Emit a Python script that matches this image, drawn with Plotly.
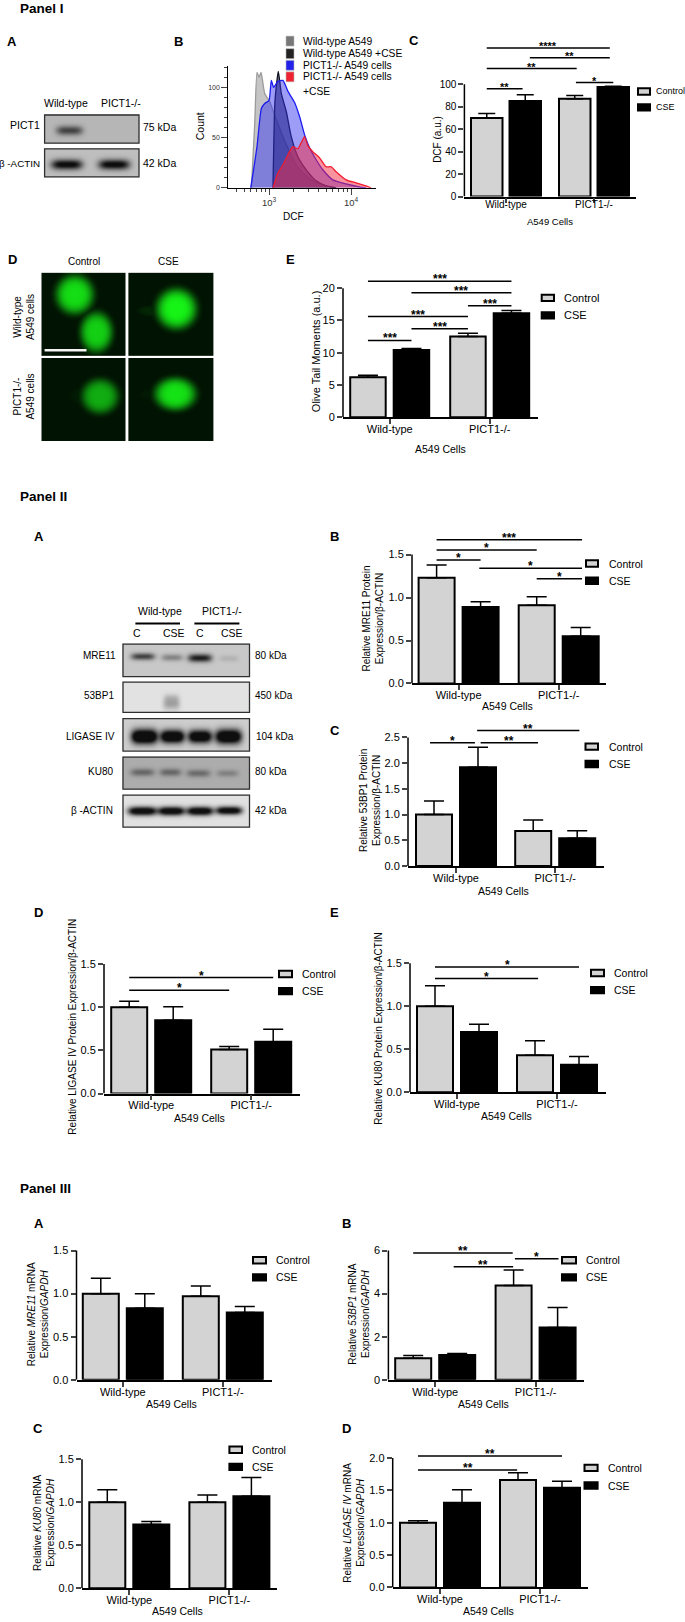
import numpy as np
import plotly.graph_objects as go

W, H = 685, 1622
FONT = "Liberation Sans"
GROUPS = ["Wild-type", "PICT1-/-"]
GREY = "#d3d3d3"

# ---------- flow cytometry histogram (DCF, count) ----------
WT_X = [610, 670, 714, 757, 800, 886, 1019, 1228, 1479, 1782, 2148, 2588, 3418, 4966, 6577]
WT_Y = [0, 64, 115, 110, 115, 94, 86, 68, 51, 36, 23, 15, 7, 2, 0]
WTCSE_X = [1118, 1183, 1298, 1412, 1623, 1867, 2249, 2840, 3756, 4966, 6577]
WTCSE_Y = [0, 87, 116, 94, 76, 51, 31, 18, 7, 2, 0]
KO_X = [598, 640, 714, 807, 886, 1000, 1067, 1139, 1286, 1479, 1702, 2051, 2357, 2710, 3119, 3756, 4529, 5986, 8689, 12620, 15210]
KO_Y = [0, 15, 41, 79, 84, 87, 107, 100, 106, 107, 96, 85, 71, 53, 40, 28, 18, 8, 4, 1, 0]
KOCSE_X = [1118, 1286, 1479, 1702, 1954, 2249, 2470, 2710, 2979, 3418, 4121, 4966, 5715, 6577, 8689, 11510, 15210, 17500]
KOCSE_Y = [0, 15, 23, 33, 41, 39, 45, 51, 42, 36, 30, 21, 21, 16, 8, 5, 2, 0]

# ---------- bar values: [Wild-type, PICT1-/-] ----------
IC_CTRL, IC_CTRL_E = [70, 87], [4, 3]
IC_CSE, IC_CSE_E = [85, 97.5], [5.5, 0.6]
IC_SIG = [(0, 2.91, 132.2, "****"), (1.12, 2.91, 123.6, "**"), (0, 2.05, 113.9, "**"), (2.03, 3, 101.5, "*"), (0, 0.93, 95.9, "**")]

IE_CTRL, IE_CTRL_E = [6.2, 12.5], [0.3, 0.5]
IE_CSE, IE_CSE_E = [10.4, 16.1], [0.25, 0.45]
IE_SIG = [(0, 3, 21.1, "***"), (1, 3, 19.3, "***"), (2, 3, 17.3, "***"), (0, 2, 15.6, "***"), (1, 2, 13.7, "***"), (0, 1, 11.9, "***")]

IIB_CTRL, IIB_CTRL_E = [1.23, 0.91], [0.15, 0.10]
IIB_CSE, IIB_CSE_E = [0.89, 0.55], [0.06, 0.10]
IIB_SIG = [(0, 3.03, 1.674, "***"), (0, 2, 1.554, "*"), (0, 1, 1.438, "*"), (0.97, 3.03, 1.342, "*"), (2, 3.03, 1.219, "*")]

IIC_CTRL, IIC_CTRL_E = [1.0, 0.68], [0.263, 0.216]
IIC_CSE, IIC_CSE_E = [1.92, 0.54], [0.387, 0.143]
IIC_SIG = [(-0.09, 0.93, 2.397, "*"), (1.06, 2.11, 2.397, "**"), (0.98, 3.05, 2.635, "**")]

IID_CTRL, IID_CTRL_E = [1.0, 0.51], [0.07, 0.035]
IID_CSE, IID_CSE_E = [0.85, 0.60], [0.155, 0.144]
IID_SIG = [(0, 3, 1.343, "*"), (0, 2, 1.197, "*")]

IIE_CTRL, IIE_CTRL_E = [1.0, 0.43], [0.238, 0.168]
IIE_CSE, IIE_CSE_E = [0.70, 0.32], [0.09, 0.097]
IIE_SIG = [(0, 3, 1.458, "*"), (0, 2.07, 1.323, "*")]

IIIA_CTRL, IIIA_CTRL_E = [1.0, 0.97], [0.178, 0.12]
IIIA_CSE, IIIA_CSE_E = [0.83, 0.78], [0.17, 0.07]

IIIB_CTRL, IIIB_CTRL_E = [1.0, 4.38], [0.13, 0.72]
IIIB_CSE, IIIB_CSE_E = [1.15, 2.43], [0.07, 0.93]
IIIB_SIG = [(0, 1.98, 5.89, "**"), (0.92, 1.99, 5.25, "**"), (2.03, 3.02, 5.62, "*")]

IIIC_CTRL, IIIC_CTRL_E = [1.0, 1.0], [0.145, 0.084]
IIIC_CSE, IIIC_CSE_E = [0.74, 1.07], [0.035, 0.218]

IIID_CTRL, IIID_CTRL_E = [1.0, 1.66], [0.03, 0.11]
IIID_CSE, IIID_CSE_E = [1.31, 1.54], [0.2, 0.1]
IIID_SIG = [(0, 3, 2.03, "**"), (0, 1.98, 1.816, "**")]

# ---------- illustration rasters: (x, y, sx, sy, strength) ----------
BLOT_I_PICT1 = [(69, 126.7, 11, 3.2, 0.7)]
BLOT_I_ACTIN = [(66.4, 161, 13, 3.5, 1.1), (113.6, 161, 13, 3.5, 1.1)]
LANES = [142.5, 171.7, 199.5, 228.5]
BLOT_MRE11 = [(LANES[0], 656, 10, 2.4, 0.75), (LANES[1], 657, 9, 2.4, 0.38), (LANES[2], 657.5, 10, 2.8, 0.95), (LANES[3], 658, 8, 2.2, 0.12)]
BLOT_53BP1 = [(171, 703, 7, 4.5, 0.32), (171, 697, 6, 2.5, 0.1)]
BLOT_LIG4 = [(144, 736.5, 11, 5, 1.6), (172, 736.5, 10, 4.5, 1.5), (199.5, 736.5, 10, 4.5, 1.4), (228, 736.5, 11, 5, 1.5)]
BLOT_KU80 = [(142, 772.5, 10, 2.6, 0.45), (170, 772.5, 9, 2.6, 0.45), (198, 773.5, 10, 2.6, 0.42), (227, 773.5, 9, 2.4, 0.28)]
BLOT_ACTIN = [(142, 811.5, 12, 3, 1.3), (171, 811.5, 11, 3, 1.3), (199.5, 811.5, 11, 3, 1.3), (228.5, 811, 11, 2.8, 1.25)]
COMET_A = [(74.3, 291.7, 17, 17.5, 0.9), (96, 329.3, 14.5, 18, 0.84)]
COMET_B = [(176, 306, 18, 18, 1.0), (152, 308, 14, 5, 0.1)]
COMET_C = [(99.6, 394, 16.5, 15.5, 0.68), (80, 394, 10, 8, 0.05)]
COMET_D = [(174.8, 391.7, 18.5, 14.5, 0.92), (150, 392, 12, 6, 0.04)]

fig = go.Figure()
layout = {}
annots = []
shapes = []


def px(x):
    return x / W


def py(y):
    return 1 - y / H


def T(text, x, y, size=10.5, anchor="center", angle=0, bold=False):
    annots.append(dict(text=f"<b>{text}</b>" if bold else text, x=px(x), y=py(y), xref="paper", yref="paper",
                       xanchor=anchor, yanchor="middle", showarrow=False, textangle=angle,
                       font=dict(family=FONT, size=size, color="black")))


def pixel_rect(x0, y0, x1, y1, fill=None, line="black", lw=1.0):
    shapes.append(dict(type="rect", xref="paper", yref="paper", x0=px(x0), x1=px(x1), y0=py(y0), y1=py(y1),
                       fillcolor=fill if fill else "rgba(0,0,0,0)", line=dict(color=line, width=lw)))


def pixel_line(x0, y0, x1, y1, lw=2, color="black"):
    shapes.append(dict(type="line", xref="paper", yref="paper", x0=px(x0), x1=px(x1), y0=py(y0), y1=py(y1),
                       line=dict(color=color, width=lw)))


# canvas for the raster illustrations, in picture pixels
layout["xaxis"] = dict(domain=[0, 1], range=[0, W], visible=False, fixedrange=True)
layout["yaxis"] = dict(domain=[0, 1], range=[H, 0], visible=False, fixedrange=True)


def blot(x0, y0, x1, y1, bands, bg):
    xs = np.arange(x0, x1, 1.0)
    ys = np.arange(y0, y1, 1.0)
    X, Y = np.meshgrid(xs, ys)
    d = np.zeros_like(X)
    for cx, cy, sx, sy, a in bands:
        d += a * np.exp(-0.5 * ((X - cx) / sx) ** 4) * np.exp(-0.5 * ((Y - cy) / sy) ** 2)
    z = np.clip(bg * (1 - np.minimum(d, 1.0) * 0.93), 0, 255)
    fig.add_trace(go.Heatmap(z=np.round(z, 0).tolist(), x0=x0, dx=1, y0=y0, dy=1, zmin=0, zmax=255,
                             colorscale=[[0, "black"], [1, "white"]], showscale=False, hoverinfo="skip",
                             zsmooth="best", xaxis="x", yaxis="y"))
    pixel_rect(x0, y0, x1, y1, line="#303030", lw=1.3)


def comet(x0, y0, x1, y1, blobs):
    xs = np.arange(x0, x1, 1.0)
    ys = np.arange(y0, y1, 1.0)
    X, Y = np.meshgrid(xs, ys)
    g = np.full_like(X, 0.015)
    for cx, cy, rx, ry, a in blobs:
        r2 = ((X - cx) / rx) ** 2 + ((Y - cy) / ry) ** 2
        g = np.maximum(g, a * np.exp(-np.log(2) * r2 ** 2.2))
    fig.add_trace(go.Heatmap(z=np.round(g, 3).tolist(), x0=x0, dx=1, y0=y0, dy=1, zmin=0, zmax=1,
                             colorscale=[[0, "#011002"], [0.6, "#0f9a10"], [1, "#16f416"]], showscale=False,
                             hoverinfo="skip", zsmooth="best", xaxis="x", yaxis="y"))


blot(44.6, 111.7, 139, 140, BLOT_I_PICT1, 182)
blot(44.6, 145.7, 139, 174, BLOT_I_ACTIN, 190)
blot(123, 644, 249.5, 676.7, BLOT_MRE11, 200)
blot(123, 682.3, 249.5, 712.7, BLOT_53BP1, 226)
blot(123, 719, 249.5, 751.7, BLOT_LIG4, 205)
blot(123, 757.7, 249.5, 790, BLOT_KU80, 172)
blot(123, 796, 249.5, 828.3, BLOT_ACTIN, 225)
comet(42, 271, 125.4, 354.3, COMET_A)
comet(128.9, 271, 213.6, 354.3, COMET_B)
comet(42, 356.7, 125.4, 440.7, COMET_C)
comet(128.9, 356.7, 213.6, 440.7, COMET_D)
pixel_line(44.6, 348.3, 86.5, 348.3, lw=2.5, color="#f4f4f4")

axis_no = 1


def bar_panel(ctrl, ctrl_e, cse, cse_e, sig, left, right, top, bottom, ymax, dtick, fmt, g1, g2,
              d=44.0, pw=36.0, cap=10, size=11, sigsize=12, standoff=-4):
    global axis_no
    axis_no += 1
    n = axis_no
    unit = g2 - g1
    xa, ya = f"x{n}", f"y{n}"
    pos = list(range(len(GROUPS)))
    # the value scale carries on above the axis line, so the brackets sit on it too
    highest = max([ymax] + [s[2] for s in sig])
    yext = highest * 1.02
    top_ext = bottom - (bottom - top) * yext / ymax
    common = dict(x=pos, width=pw / unit, xaxis=xa, yaxis=ya, hoverinfo="y", showlegend=False)
    fig.add_trace(go.Bar(y=ctrl, name="Control", offset=-(d / 2 + pw / 2) / unit,
                         marker=dict(color=GREY, line=dict(color="black", width=2)),
                         error_y=dict(type="data", symmetric=False, array=ctrl_e, arrayminus=[0, 0],
                                      color="black", thickness=1.5, width=cap), **common))
    fig.add_trace(go.Bar(y=cse, name="CSE", offset=(d / 2 - pw / 2) / unit,
                         marker=dict(color="black", line=dict(color="black", width=2)),
                         error_y=dict(type="data", symmetric=False, array=cse_e, arrayminus=[0, 0],
                                      color="black", thickness=1.5, width=cap), **common))

    def bar_x(i):
        h = d / 2 / unit
        return -h + i * 2 * h if i < 1.5 else 1 - h + (i - 2) * 2 * h

    for a, b, y, label in sig:
        fig.add_trace(go.Scatter(x=[bar_x(a), bar_x(b)], y=[y, y], mode="lines", line=dict(color="black", width=1.5),
                                 cliponaxis=False, xaxis=xa, yaxis=ya, hoverinfo="skip", showlegend=False))
        annots.append(dict(text=f"<b>{label}</b>", x=(bar_x(a) + bar_x(b)) / 2, y=y, xref=xa, yref=ya,
                           yshift=2, yanchor="middle", showarrow=False,
                           font=dict(family=FONT, size=sigsize, color="black")))
    shapes.append(dict(type="line", xref=f"{xa} domain", yref=ya, x0=0, x1=0, y0=0, y1=ymax,
                       line=dict(color="black", width=1.5)))
    ticks = [round(dtick * i, 6) for i in range(int(round(ymax / dtick)) + 1)]
    layout[f"xaxis{n}"] = dict(domain=[px(left), px(right)], range=[(left - g1) / unit, (right - g1) / unit],
                               anchor=ya, tickmode="array", tickvals=pos, ticktext=GROUPS, ticks="outside",
                               ticklen=5, tickwidth=1.5, showline=True, linecolor="black", linewidth=1.5,
                               showgrid=False, zeroline=False, fixedrange=True, ticklabelstandoff=standoff,
                               tickfont=dict(family=FONT, size=size, color="black"))
    layout[f"yaxis{n}"] = dict(domain=[py(bottom), py(top_ext)], range=[0, yext], anchor=xa, tickmode="array",
                               tickvals=ticks, tickformat=fmt, ticks="outside", ticklen=5, tickwidth=1.5,
                               showline=False, showgrid=False, zeroline=False, fixedrange=True,
                               tickfont=dict(family=FONT, size=size, color="black"))


def legend(x0, x1, y1, y2, tx, size=10.5):
    pixel_rect(x0, y1 - 3.2, x1, y1 + 3.2, fill=GREY, lw=2)
    pixel_rect(x0, y2 - 3.2, x1, y2 + 3.2, fill="black", lw=2)
    T("Control", tx, y1, size, "left")
    T("CSE", tx, y2, size, "left")


# ---------- Panel I ----------
T("Panel I", 17.5, 5, 13.5, "left", bold=True)
T("A", 12, 37.7, 13, bold=True)
T("B", 178, 37.7, 13, bold=True)
T("C", 414, 37, 13, bold=True)
T("Wild-type", 66.4, 100, 10.5)
T("PICT1-/-", 121, 100, 10.5)
T("PICT1", 42, 122, 10.5, "right")
T("β -ACTIN", 42.4, 160, 9.8, "right")
T("75 kDa", 140.7, 124, 10.5, "left")
T("42 kDa", 140.7, 160, 10.5, "left")

# histogram B
axis_no += 1
hn = axis_no
for name, xs, ys, lc, fc in [
    ("Wild-type A549", WT_X, WT_Y, "#9a9a9a", "rgba(150,150,150,0.55)"),
    ("Wild-type A549 +CSE", WTCSE_X, WTCSE_Y, "#101020", "rgba(20,20,50,0.6)"),
    ("PICT1-/- A549 cells", KO_X, KO_Y, "#1c1cf0", "rgba(50,50,240,0.48)"),
    ("PICT1-/- A549 cells +CSE", KOCSE_X, KOCSE_Y, "#f01c30", "rgba(245,40,60,0.5)"),
]:
    fig.add_trace(go.Scatter(x=xs, y=ys, mode="lines", name=name, fill="tozeroy", fillcolor=fc,
                             line=dict(color=lc, width=1.3, shape="spline", smoothing=0.5),
                             xaxis=f"x{hn}", yaxis=f"y{hn}", showlegend=False, hoverinfo="name"))
layout[f"xaxis{hn}"] = dict(domain=[px(228.3), px(375.7)], type="log", range=[2.504, 4.30], anchor=f"y{hn}",
                            dtick=1, exponentformat="power", ticks="outside", ticklen=6, tickwidth=1,
                            showline=True, linecolor="black", linewidth=1.2, showgrid=False, zeroline=False,
                            fixedrange=True, tickfont=dict(family=FONT, size=7.5, color="#333"),
                            minor=dict(ticks="outside", ticklen=3, tickwidth=1, dtick="D1", showgrid=False))
layout[f"yaxis{hn}"] = dict(domain=[py(185), py(62.7)], range=[0, 121], anchor=f"x{hn}", tickvals=[0, 50, 100],
                            ticks="outside", ticklen=6, tickwidth=1, showline=True, linecolor="black", linewidth=1,
                            showgrid=False, zeroline=False, fixedrange=True,
                            tickfont=dict(family=FONT, size=7, color="#333"),
                            minor=dict(ticks="outside", ticklen=3, tickwidth=1, dtick=10, showgrid=False))
T("Count", 200, 123, 10.5, angle=-90)
T("DCF", 293.6, 214, 10)
for (lbl, y, col) in [("Wild-type A549", 37.3, "#777777"), ("Wild-type A549 +CSE", 50, "#222222"),
                      ("PICT1-/- A549 cells", 61.7, "#2222e8"), ("PICT1-/- A549 cells", 73.3, "#ee2230")]:
    pixel_rect(286, y - 5, 294, y + 5, fill=col, line="#bbbbbb", lw=0.6)
    T(lbl, 301, y, 10.3, "left")
T("+CSE", 301, 88, 10.3, "left")

bar_panel(IC_CTRL, IC_CTRL_E, IC_CSE, IC_CSE_E, IC_SIG, 464.4, 635.6, 80.7, 193.7, 100, 20, "d", 506, 594,
          d=38.5, pw=31.5, cap=8.5, size=10, sigsize=11, standoff=-7)
legend(638, 650, 88, 104, 654, 9)
T("DCF (a.u.)", 438, 136.7, 10, angle=-90)
T("A549 Cells", 550, 219, 9.5)

T("D", 12, 256.7, 13, bold=True)
T("E", 290, 256.7, 13, bold=True)
T("Control", 84, 259.3, 10)
T("CSE", 168, 259.3, 10)
T("Wild-type<br>A549 cells", 24, 315, 10, angle=-90)
T("PICT1-/-<br>A549 cells", 24, 395, 10, angle=-90)

bar_panel(IE_CTRL, IE_CTRL_E, IE_CSE, IE_CSE_E, IE_SIG, 343, 538, 286, 415.7, 20, 5, "d", 389.7, 489.7,
          d=43.5, pw=35.5, cap=10)
legend(541.7, 554, 295.7, 313.3, 562, 11)
T("Olive Tail Moments (a.u.)", 316, 350.3, 11, angle=-90)
T("A549 Cells", 440, 447.3, 10.5)

# ---------- Panel II ----------
T("Panel II", 17.5, 496, 13.5, "left", bold=True)
T("A", 39.3, 536, 13, bold=True)
T("B", 334, 536, 13, bold=True)
T("C", 334.6, 731, 13, bold=True)
T("D", 38.4, 914.3, 13, bold=True)
T("E", 334, 914.3, 13, bold=True)
T("Wild-type", 159.5, 610.7, 10.5)
T("PICT1-/-", 222, 610.7, 10.5)
pixel_line(135.4, 623.3, 180, 623.3)
pixel_line(194.4, 623.3, 239.4, 623.3)
for lbl, x in [("C", 137), ("CSE", 174.3), ("C", 200), ("CSE", 232)]:
    T(lbl, x, 632.7, 10.5)
for lbl, xr, xl, kda, y in [("MRE11", 118.4, 252.5, "80 kDa", 655.7), ("53BP1", 115.8, 252.5, "450 kDa", 695.5),
                            ("LIGASE IV", 117, 253.8, "104 kDa", 737), ("KU80", 115, 252.5, "80 kDa", 772.3),
                            ("β -ACTIN", 114.5, 253.3, "42 kDa", 811.8)]:
    T(lbl, xr, y, 10, "right")
    T(kda, xl, y, 10, "left")

bar_panel(IIB_CTRL, IIB_CTRL_E, IIB_CSE, IIB_CSE_E, IIB_SIG, 412, 606, 554, 683.7, 1.5, 0.5, ".1f",
          458.6, 558.7)
legend(586, 598, 563, 580.3, 606.5)
T("Relative MRE11 Protein<br>Expression/β-ACTIN", 373, 618.3, 10, angle=-90)
T("A549 Cells", 507, 706.7, 10.5)

bar_panel(IIC_CTRL, IIC_CTRL_E, IIC_CSE, IIC_CSE_E, IIC_SIG, 408, 604, 738, 867.3, 2.5, 0.5, ".1f",
          456, 555.2)
legend(585.5, 598, 747.3, 764.7, 606.5)
T("Relative 53BP1 Protein<br>Expression/β-ACTIN", 370, 802, 10, angle=-90)
T("A549 Cells", 504, 892.7, 10.5)

bar_panel(IID_CTRL, IID_CTRL_E, IID_CSE, IID_CSE_E, IID_SIG, 104, 300, 966, 1096.3, 1.5, 0.5, ".1f",
          151.2, 251.2)
legend(279, 292, 976, 993.3, 300)
T("Relative LIGASE IV Protein Expression/β-ACTIN", 73, 1029, 10, angle=-90)
T("A549 Cells", 200, 1121, 10.5)

bar_panel(IIE_CTRL, IIE_CTRL_E, IIE_CSE, IIE_CSE_E, IIE_SIG, 410, 606, 965.3, 1095, 1.5, 0.5, ".1f",
          457, 557)
legend(591, 604, 975, 992.3, 611.6)
T("Relative KU80 Protein Expression/β-ACTIN", 379, 1030, 10, angle=-90)
T("A549 Cells", 506, 1119, 10.5)

# ---------- Panel III ----------
T("Panel III", 17.5, 1191.7, 13.5, "left", bold=True)
T("A", 39.3, 1227.3, 13, bold=True)
T("B", 346, 1227.3, 13, bold=True)
T("C", 38.4, 1433.7, 13, bold=True)
T("D", 346, 1433.7, 13, bold=True)

bar_panel(IIIA_CTRL, IIIA_CTRL_E, IIIA_CSE, IIIA_CSE_E, [], 76.5, 271.7, 1254.3, 1384.3, 1.5, 0.5, ".1f",
          122.8, 222.8)
legend(253, 266, 1264, 1281.3, 274.4)
T("Relative <i>MRE11</i> mRNA<br>Expression/<i>GAPDH</i>", 38, 1318.3, 10, angle=-90)
T("A549 Cells", 171, 1409, 10.5)

bar_panel(IIIB_CTRL, IIIB_CTRL_E, IIIB_CSE, IIIB_CSE_E, IIIB_SIG, 388.4, 584, 1254.3, 1384.3, 6, 2, "d",
          435.2, 535.6)
legend(562, 576, 1264, 1281.3, 584)
T("Relative <i>53BP1</i> mRNA<br>Expression/<i>GAPDH</i>", 359.5, 1318.3, 10, angle=-90)
T("A549 Cells", 483.6, 1409, 10.5)

bar_panel(IIIC_CTRL, IIIC_CTRL_E, IIIC_CSE, IIIC_CSE_E, [], 82, 277.4, 1464.3, 1594, 1.5, 0.5, ".1f",
          129.3, 229.4)
legend(229.4, 242, 1454.7, 1472, 250)
T("Relative <i>KU80</i> mRNA<br>Expression/<i>GAPDH</i>", 44.6, 1528.7, 10, angle=-90)
T("A549 Cells", 177.8, 1617, 10.5)

bar_panel(IIID_CTRL, IIID_CTRL_E, IIID_CSE, IIID_CSE_E, IIID_SIG, 392.7, 587.6, 1463, 1593.3, 2, 0.5, ".1f",
          440, 540)
legend(584.5, 597.6, 1473, 1490.7, 605.5)
T("Relative <i>LIGASE IV</i> mRNA<br>Expression/<i>GAPDH</i>", 354.4, 1527.7, 10, angle=-90)
T("A549 Cells", 488.4, 1617, 10.5)

fig.update_layout(width=W, height=H, margin=dict(l=0, r=0, t=0, b=0), autosize=False, paper_bgcolor="white",
                  plot_bgcolor="rgba(0,0,0,0)", showlegend=False, annotations=annots, shapes=shapes,
                  font=dict(family=FONT, color="black"), barmode="overlay", **layout)
fig.write_html("out.html", config=dict(displayModeBar=False),
               post_script="document.body.style.margin='0';")
